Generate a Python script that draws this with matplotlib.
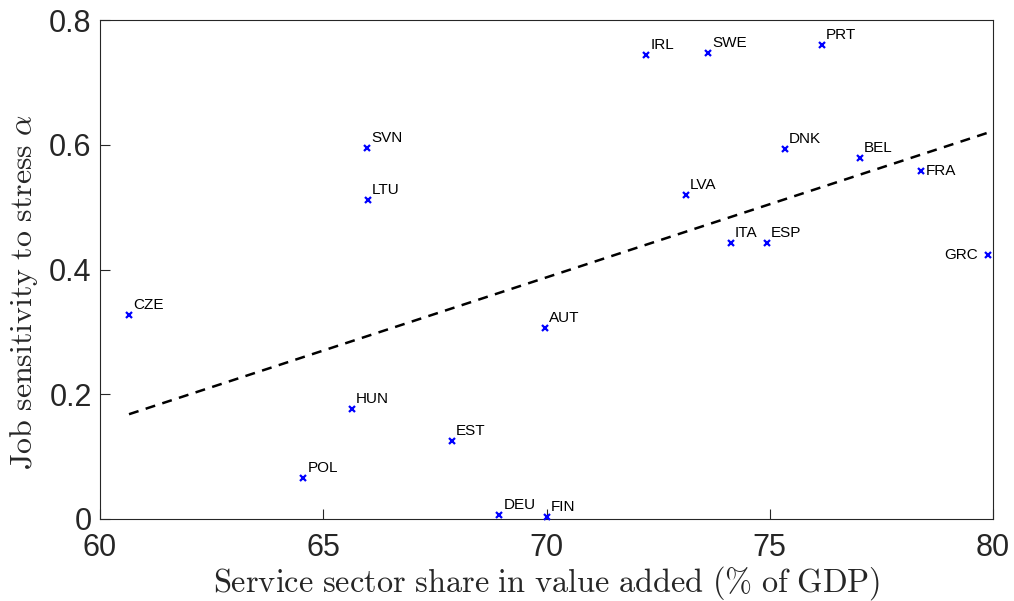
import numpy as np
import matplotlib.pyplot as plt

plt.rcParams['mathtext.fontset'] = 'cm'
plt.rcParams['font.family'] = ['Liberation Sans', 'DejaVu Sans']

# Länder, Dienstleistungsanteil (% BIP), Stress-Sensitivität alpha
laender = ['CZE', 'POL', 'HUN', 'SVN', 'LTU', 'EST', 'DEU', 'FIN', 'AUT', 'IRL',
           'SWE', 'LVA', 'ITA', 'ESP', 'DNK', 'PRT', 'BEL', 'FRA', 'GRC']
anteil = [60.65, 64.55, 65.64, 65.98, 66.0, 67.88, 68.94, 70.01, 69.97, 72.23,
          73.62, 73.12, 74.13, 74.94, 75.34, 76.17, 77.02, 78.39, 79.89]
alpha = [0.327, 0.066, 0.176, 0.595, 0.511, 0.125, 0.006, 0.003, 0.306, 0.744,
         0.747, 0.519, 0.442, 0.442, 0.593, 0.760, 0.579, 0.558, 0.423]

# Regressionsgerade (Endpunkte)
fit_x = [60.65, 80.0]
fit_y = [0.168, 0.622]

xticks = [60, 65, 70, 75, 80]
yticks = [0, 0.2, 0.4, 0.6, 0.8]

fig = plt.figure(figsize=(10.14, 6.01), dpi=100)
ax = fig.add_axes([100/1014, 1-519/601, 893/1014, 499/601])

ax.plot(fit_x, fit_y, linestyle='--', color='black', linewidth=1.8, dashes=(4, 3))
ax.plot(anteil, alpha, linestyle='none', marker='x', color='blue',
        markersize=4, markeredgewidth=1.6, clip_on=False, zorder=3)

for name, xv, yv in zip(laender, anteil, alpha):
    if name == 'GRC':
        ax.annotate(name, (xv, yv), xytext=(-7, 0), textcoords='offset points',
                    ha='right', va='center', fontsize=11)
    elif name == 'FRA':
        ax.annotate(name, (xv, yv), xytext=(3, 0), textcoords='offset points',
                    ha='left', va='center', fontsize=11)
    else:
        ax.annotate(name, (xv, yv), xytext=(3, 4.5), textcoords='offset points',
                    ha='left', va='baseline', fontsize=11)

ax.set_xlim(60, 80)
ax.set_ylim(0, 0.8)
ax.set_xticks(xticks)
ax.set_yticks(yticks)
ax.set_xticklabels([str(t) for t in xticks])
ax.set_yticklabels(['0', '0.2', '0.4', '0.6', '0.8'])
ax.tick_params(direction='in', length=7, width=0.8, labelsize=22,
               color='#262626', labelcolor='#262626', top=False, right=False)
ax.tick_params(axis='x', pad=10)
ax.tick_params(axis='y', pad=6)
for s in ax.spines.values():
    s.set_color('#262626')
    s.set_linewidth(0.8)

ax.set_xlabel(r'$\mathrm{Service\ sector\ share\ in\ value\ added\ (\%\ of\ GDP)}$',
              fontsize=23.3, color='#262626')
ax.set_ylabel(r'$\mathrm{Job\ sensitivity\ to\ stress}\ \alpha$',
              fontsize=23, color='#262626')
ax.xaxis.set_label_coords(0.5, -0.09)
ax.yaxis.set_label_coords(-0.067, 0.455)

fig.savefig('out.png', dpi=100)
